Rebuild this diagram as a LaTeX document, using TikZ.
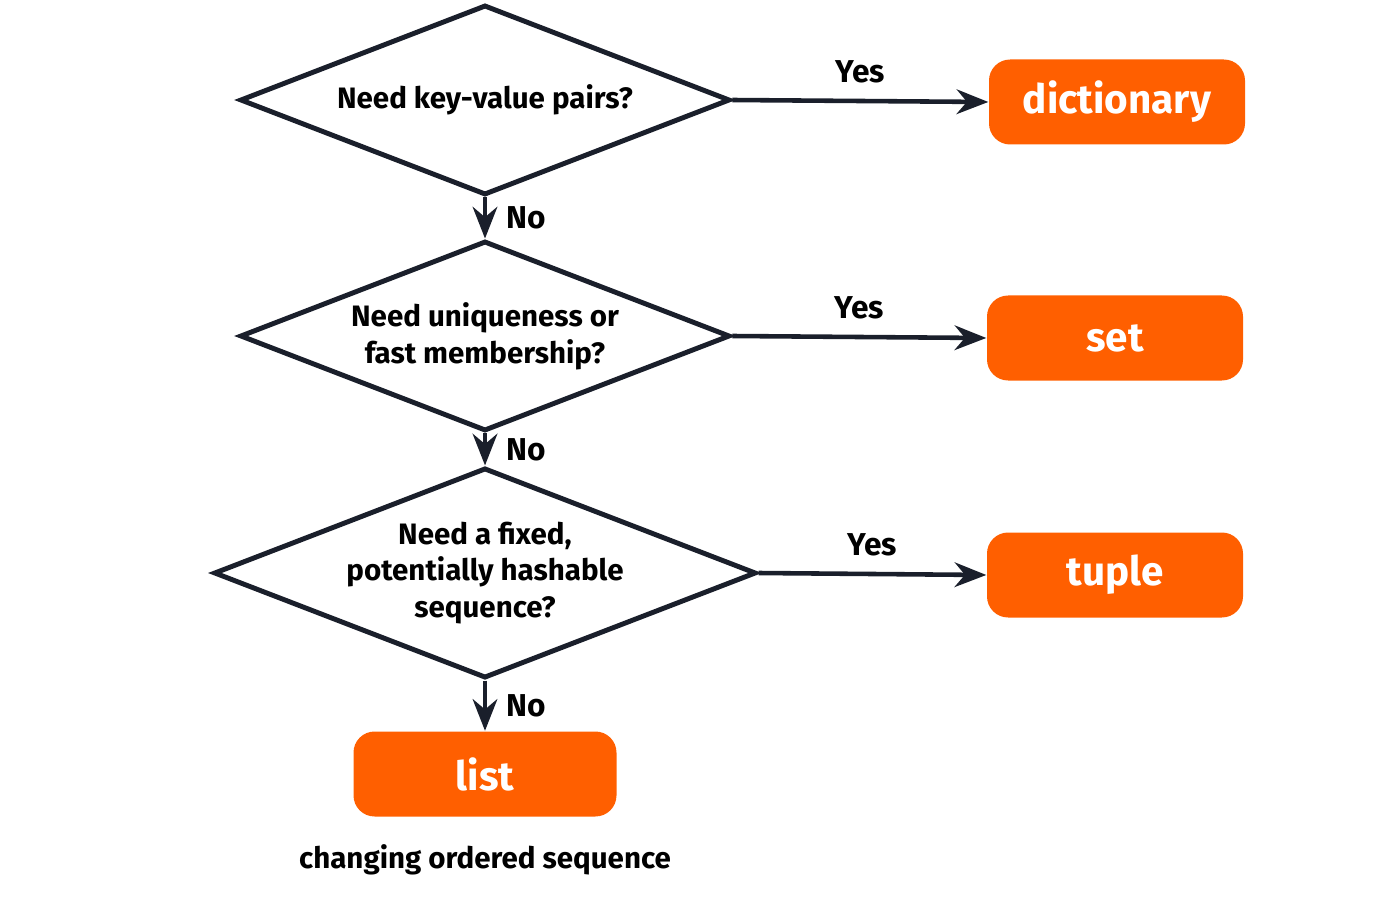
\documentclass[tikz,border=0pt]{standalone}
\usepackage{fontspec}
\setmainfont{Fira Sans}
\usetikzlibrary{shapes.geometric, arrows.meta, positioning}
\definecolor{boxorange}{HTML}{FF5F00}
\definecolor{inkline}{HTML}{1A1F2B}

\begin{document}
\begin{tikzpicture}[>={Stealth[length=9pt,width=7pt]},
        decision/.style={diamond,draw=inkline,line width=1.4pt,aspect=2.58,
          minimum width=4.9cm,minimum height=1.9cm,inner sep=0pt,
          align=center,font=\fontsize{8.4}{10.5}\selectfont\bfseries},
        answer/.style={rectangle,rounded corners=6pt,fill=boxorange,text=white,
          minimum width=2.56cm,minimum height=0.85cm,
          font=\fontsize{11.5}{13}\selectfont\bfseries},
        flow/.style={->,draw=inkline,line width=1.3pt},
        branch/.style={font=\fontsize{9}{11}\selectfont\bfseries}]
    \useasboundingbox (0,0) rectangle (14,9);

      \node[decision] (keys) at (4.85,8.0) {Need key-value pairs?};
      \node[decision] (uniq) at (4.85,5.64) {Need uniqueness or\\fast membership?};
      \node[decision] (fixed) at (4.85,3.27) {Need a fixed,\\potentially hashable\\sequence?};

      \node[answer] (dict) at (11.17,7.98) {dictionary};
      \node[answer] (set) at (11.15,5.62) {set};
      \node[answer] (tuple) at (11.15,3.25) {tuple};
      \node[answer,minimum width=2.63cm] (list) at (4.85,1.26) {list};
      \node[font=\fontsize{8.4}{10}\selectfont\bfseries] (note) [below=0.15cm of list] {changing ordered sequence};

      \draw[flow] (keys.east) -- node[branch,above,pos=0.5,yshift=1pt] {Yes} (dict.west);
      \draw[flow] (uniq.east) -- node[branch,above,pos=0.5,yshift=1pt] {Yes} (set.west);
      \draw[flow] (fixed.east) -- node[branch,above,pos=0.5,yshift=1pt] {Yes} (tuple.west);
      \draw[flow] (keys.south) -- node[branch,right,xshift=2pt] {No} (uniq.north);
      \draw[flow] (uniq.south) -- node[branch,right,xshift=2pt] {No} (fixed.north);
      \draw[flow] (fixed.south) -- node[branch,right,xshift=2pt] {No} (list.north);
    \end{tikzpicture}
\end{document}
